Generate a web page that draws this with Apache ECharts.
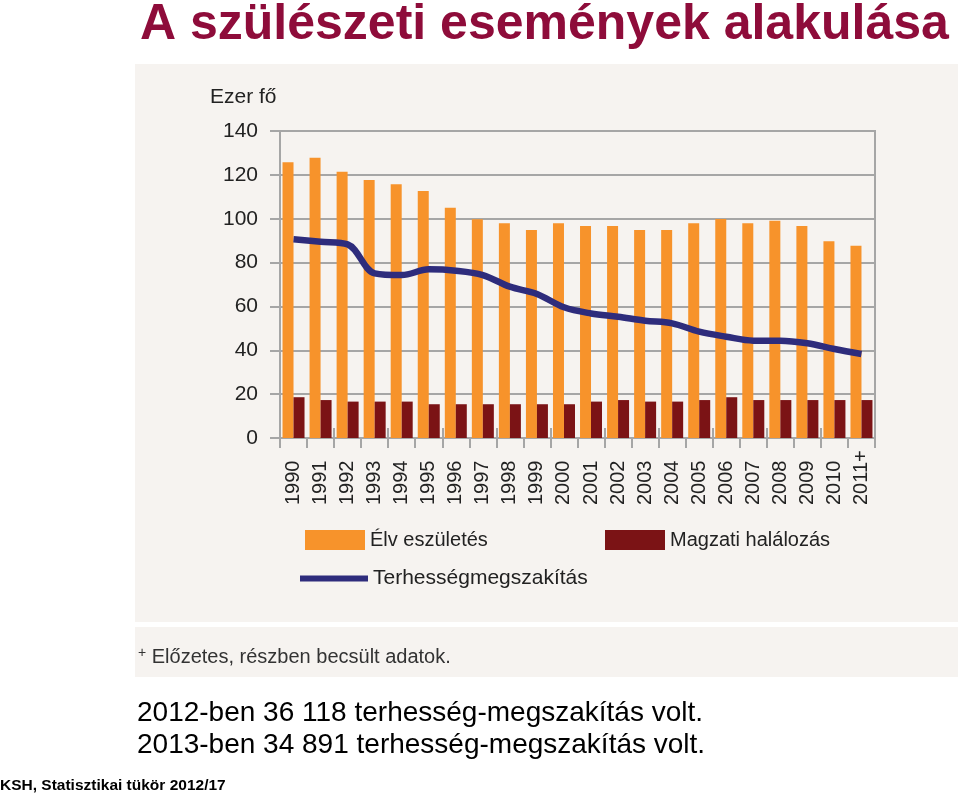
<!DOCTYPE html>
<html>
<head>
<meta charset="utf-8">
<script src="https://cdn.jsdelivr.net/npm/echarts@6/dist/echarts.min.js"></script>
<style>
html,body{margin:0;padding:0;background:#fff;}
#chart{width:960px;height:797px;}
</style>
</head>
<body>
<div id="chart"></div>
<script>
var years = ['1990','1991','1992','1993','1994','1995','1996','1997','1998','1999','2000','2001','2002','2003','2004','2005','2006','2007','2008','2009','2010','2011+'];
var elveszuletes = [125.7,127.8,121.4,117.6,115.7,112.6,105.0,99.7,97.9,94.8,97.9,96.7,96.7,94.8,94.8,97.9,99.9,97.9,99.1,96.7,89.7,87.7];
var magzatiHalalozas = [18.6,17.3,16.6,16.6,16.6,15.4,15.4,15.4,15.4,15.4,15.4,16.6,17.3,16.6,16.6,17.3,18.6,17.3,17.3,17.3,17.3,17.3];
var terhessegmegszakitas = [90.6,89.5,88.3,75.1,74.3,76.9,76.3,74.3,69.0,65.7,59.6,56.8,55.3,53.5,52.3,48.5,46.2,44.4,44.4,43.2,40.6,38.3];
var yTicks = [0,20,40,60,80,100,120,140];

var FONT = 'Liberation Sans, Arial, sans-serif';
var GRAY = '#a6a6a6';
var chart = echarts.init(document.getElementById('chart'));
chart.setOption({
  backgroundColor: '#ffffff',
  animation: false,
  textStyle: { fontFamily: FONT },
  graphic: [
    { type: 'rect', z: -10, shape: { x: 135, y: 64, width: 823, height: 558 }, style: { fill: '#f6f3f0' } },
    { type: 'rect', z: -10, shape: { x: 135, y: 627, width: 823, height: 50 }, style: { fill: '#f6f3f0' } },
    { type: 'text', x: 140, y: 25, style: { text: 'A szülészeti események alakulása', font: 'bold 50px ' + FONT, fill: '#8E0C3A', verticalAlign: 'middle' } },
    { type: 'text', x: 210, y: 97, style: { text: 'Ezer fő', font: '21px ' + FONT, fill: '#222', verticalAlign: 'middle' } },
    { type: 'text', x: 138, y: 657, style: { text: '{sup|+} Előzetes, részben becsült adatok.', font: '20px ' + FONT, fill: '#333', verticalAlign: 'middle',
        rich: { sup: { fontSize: 14, verticalAlign: 'top', padding: [0, 0, 8, 0], fill: '#333' } } } },
    { type: 'text', x: 137, y: 713, style: { text: '2012-ben 36 118 terhesség-megszakítás volt.', font: '28px ' + FONT, fill: '#000', verticalAlign: 'middle' } },
    { type: 'text', x: 137, y: 745, style: { text: '2013-ben 34 891 terhesség-megszakítás volt.', font: '28px ' + FONT, fill: '#000', verticalAlign: 'middle' } },
    { type: 'text', x: 0, y: 786, style: { text: 'KSH, Statisztikai tükör 2012/17', font: 'bold 15.5px ' + FONT, fill: '#000', verticalAlign: 'middle' } }
  ],
  legend: [
    { left: 305, top: 530, padding: 0, itemWidth: 60, itemHeight: 20, itemGap: 10, data: [{ name: 'Élv eszületés', icon: 'rect' }], textStyle: { fontSize: 20, color: '#222', fontFamily: FONT } },
    { left: 605, top: 530, padding: 0, itemWidth: 60, itemHeight: 20, data: [{ name: 'Magzati halálozás', icon: 'rect' }], textStyle: { fontSize: 20, color: '#222', fontFamily: FONT } },
    { left: 300, top: 568, padding: 0, itemWidth: 68, itemHeight: 6, data: [{ name: 'Terhességmegszakítás', icon: 'rect' }], textStyle: { fontSize: 21, color: '#222', fontFamily: FONT } }
  ],
  grid: { left: 280, top: 131, width: 595, height: 307, show: true, borderColor: GRAY, borderWidth: 2, backgroundColor: 'transparent' },
  xAxis: [
    { type: 'category', data: years, boundaryGap: true,
      axisLine: { lineStyle: { color: GRAY, width: 2 } },
      axisTick: { show: true, length: 10, lineStyle: { color: GRAY, width: 2 } },
      axisLabel: { rotate: 90, align: 'left', verticalAlign: 'middle', margin: 67, fontSize: 20, color: '#222', fontFamily: FONT, interval: 0 } },
    { type: 'category', data: years, position: 'bottom', boundaryGap: true,
      axisLine: { show: false },
      axisTick: { show: true, inside: true, length: 10, lineStyle: { color: GRAY, width: 2 } },
      axisLabel: { show: false } }
  ],
  yAxis: {
    type: 'value', min: yTicks[0], max: yTicks[yTicks.length - 1], interval: 20,
    axisLine: { show: true, lineStyle: { color: GRAY, width: 2 } },
    axisTick: { show: true, length: 10, lineStyle: { color: GRAY, width: 2 } },
    splitLine: { show: true, lineStyle: { color: GRAY, width: 2 } },
    axisLabel: { margin: 22, fontSize: 21, color: '#222', fontFamily: FONT }
  },
  series: [
    { name: 'Élv eszületés', type: 'bar', data: elveszuletes, barWidth: 11, barGap: '0%', itemStyle: { color: '#F7932B' } },
    { name: 'Magzati halálozás', type: 'bar', data: magzatiHalalozas, barWidth: 11, barGap: '0%', itemStyle: { color: '#7B1315' } },
    { name: 'Terhességmegszakítás', type: 'line', data: terhessegmegszakitas, smooth: 0.35, symbol: 'none', z: 5,
      lineStyle: { color: '#2E2C7C', width: 6.5 }, itemStyle: { color: '#2E2C7C' } }
  ]
});
</script>
</body>
</html>
